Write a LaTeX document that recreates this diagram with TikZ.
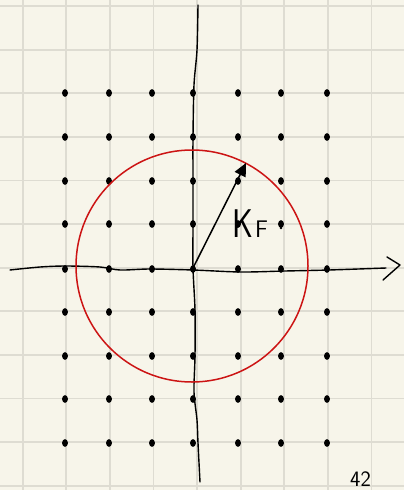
\documentclass[tikz,border=0pt]{standalone}
\usetikzlibrary{arrows.meta}
\definecolor{paper}{HTML}{F7F5EA}
\definecolor{gridc}{HTML}{DEDCD2}
\definecolor{circred}{HTML}{CC1414}
\tikzset{
  gridline/.style={gridc, line width=1.8pt},
  dotmark/.style={fill=black, draw=black, line width=0.8pt},
  axisline/.style={black, line width=1.4pt, line cap=round, line join=round},
  fermi/.style={circred, line width=1.5pt},
  kvec/.style={black, line width=1.5pt, -{Triangle[length=13pt,width=12pt]}},
  handtext/.style={inner sep=0pt, font=\sffamily},
}
\begin{document}
\begin{tikzpicture}[x=1pt,y=-1pt]
\useasboundingbox (0,0) rectangle (404,490);
\clip (0,0) rectangle (404,490);
\fill[paper] (0,0) rectangle (404,490);
% grid
\foreach \gx in {22.7,66.3,109.9,153.5,197.1,240.7,284.3,327.9,371.5}
  \draw[gridline] (\gx,0) -- (\gx,490);
\foreach \gy in {6,49.6,93.2,136.8,180.4,224,267.6,311.2,354.8,398.4,442,485.6}
  \draw[gridline] (0,\gy) -- (404,\gy);
% lattice dots
\foreach \dx in {65,109,152,193,238,281,327}
  \foreach \dy in {93,137,181,224,312,356,399,443}
    \fill[dotmark] (\dx,\dy) ellipse (2.5pt and 3.4pt);
\foreach \dx in {65,109,152,193,238,281,327}
  \fill[dotmark] (\dx,269) ellipse (2.5pt and 3.4pt);
% axes
\coordinate (O) at (193,268);
\draw[axisline] plot[smooth] coordinates {(198,5) (197,50) (194,85) (193,137) (193,181) (193,225) (193,268) (195,310) (195,356) (194,392) (197,420) (198,443) (200,482)};
\draw[axisline] plot[smooth] coordinates {(10,270) (40,267) (66,266) (100,267) (120,270) (150,269) (193,270) (241,272) (285,271) (329,270) (386,268)};
\coordinate (ah1) at (387,257);
\coordinate (ah2) at (400,265);
\coordinate (ah3) at (383,280);
\draw[axisline] (ah1) -- (ah2) -- (ah3);
% Fermi circle
\coordinate (C) at (192,266);
\draw[fermi] (C) circle (116);
% k_F vector
\coordinate (tip) at (246,163);
\draw[kvec] (O) -- (tip);
\node[handtext, anchor=south west, xscale=0.8, font=\sffamily\fontsize{40}{40}\selectfont] (kk) at (232,238) {K};
\node[handtext, anchor=south west, font=\sffamily\fontsize{24}{24}\selectfont] (kf) at (255,238) {F};
\fill (281,228) circle (1.4);
\node[handtext, anchor=south west, font=\sffamily\fontsize{22}{22}\selectfont] (pg) at (350,487) {42};
\end{tikzpicture}
\end{document}
